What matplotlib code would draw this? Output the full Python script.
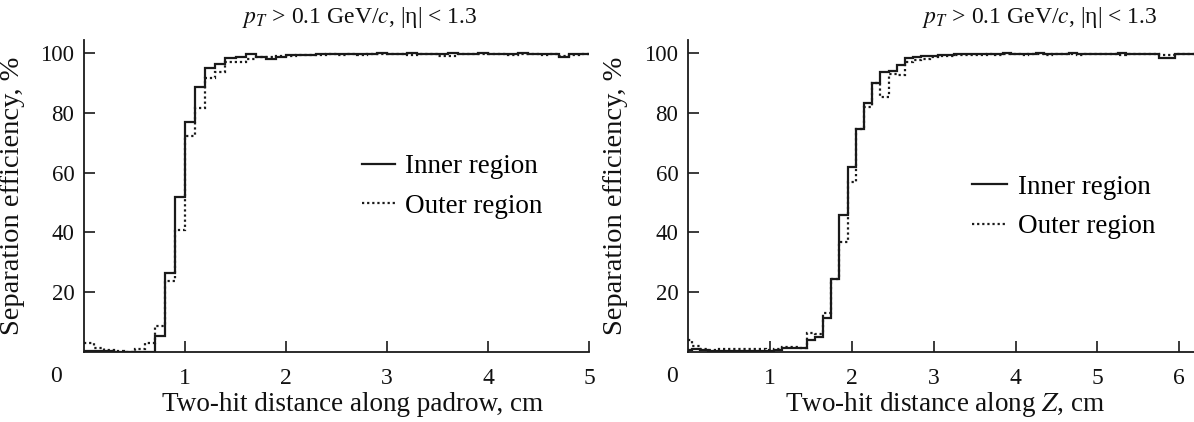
import numpy as np
import matplotlib
matplotlib.use("Agg")
import matplotlib.pyplot as plt
from matplotlib.lines import Line2D

plt.rcParams['font.family'] = ['Liberation Serif', 'DejaVu Serif']
plt.rcParams['mathtext.fontset'] = 'stix'

# ---------------- data ----------------
# Left panel: two-hit distance along padrow (cm), bins of 0.1 cm from 0 to 5
pad_edges = np.round(np.arange(0.0, 5.0001, 0.1), 2)
pad_inner = [0.3, 0.2, 0.1, 0.0, 0.0, 0.0, 0.0, 5.3, 26.5, 51.7,
             77.0, 88.8, 95.2, 96.4, 98.3, 98.8, 99.7, 98.8, 98.0, 98.9,
             99.4, 99.5, 99.6, 99.8, 99.7, 99.8, 99.9, 99.7, 99.9, 100.0,
             99.8, 99.9, 100.0, 99.8, 99.9, 99.9, 100.0, 99.8, 99.9, 100.0,
             99.9, 99.8, 99.9, 100.0, 99.9, 99.8, 99.9, 98.9, 99.7, 99.9]
pad_outer = [2.7, 1.1, 0.5, 0.1, 0.0, 0.8, 3.0, 8.4, 23.8, 40.7,
             72.2, 81.7, 91.9, 93.8, 97.1, 97.1, 98.0, 98.7, 98.9, 99.2,
             99.3, 99.5, 99.4, 99.6, 99.7, 99.5, 99.8, 99.6, 99.7, 99.9,
             99.7, 99.8, 99.6, 99.8, 99.9, 99.3, 99.2, 99.7, 99.8, 99.9,
             99.7, 99.8, 99.6, 99.9, 99.8, 99.5, 99.7, 99.2, 99.6, 99.8]

# Right panel: two-hit distance along Z (cm), bins of 0.1 cm centred on 0.1*k
z_edges = np.round(np.concatenate([[0.0], np.arange(0.05, 6.2501, 0.1)]), 2)
z_inner = [0.5, 0.8, 0.5, 0.3, 0.2, 0.2, 0.3, 0.1, 0.2, 0.3,
           0.3, 0.4, 1.2, 1.2, 1.3, 4.0, 4.7, 11.3, 24.4, 45.9,
           62.0, 74.7, 83.2, 90.1, 93.7, 94.1, 96.1, 98.5, 98.7, 99.0,
           99.3, 99.4, 99.6, 99.7, 99.8, 99.7, 99.9, 99.8, 99.9, 100.0,
           99.8, 99.9, 99.8, 100.0, 99.9, 99.8, 99.9, 100.0, 99.9, 99.7,
           99.9, 99.8, 99.9, 100.0, 99.8, 99.9, 99.7, 99.9, 98.4, 98.4,
           99.8, 99.9, 99.9]
z_outer = [3.8, 2.0, 1.0, 0.5, 0.8, 1.0, 1.0, 0.9, 0.8, 0.7,
           0.6, 0.8, 1.4, 1.4, 1.3, 6.3, 6.0, 12.9, 24.4, 36.8,
           56.9, 74.7, 82.1, 90.1, 85.4, 93.2, 92.6, 97.0, 97.9, 98.2,
           98.9, 99.2, 99.3, 99.5, 99.4, 99.6, 99.5, 99.7, 99.6, 99.8,
           99.7, 99.5, 99.8, 99.7, 99.6, 99.8, 99.7, 99.9, 99.6, 99.8,
           99.7, 99.9, 99.8, 99.6, 99.8, 99.9, 99.7, 99.8, 99.6, 99.5,
           99.7, 99.8, 99.9]

y_ticks = [20, 40, 60, 80, 100]
title_text = r"$p_T$ > 0.1 GeV/$c$, |η| < 1.3"
ylabel_text = "Separation efficiency, %"
xlabel_left = "Two-hit distance along padrow, cm"
xlabel_right = r"Two-hit distance along $Z$, cm"
legend_labels = ["Inner region", "Outer region"]

# ---------------- style ----------------
FS_TICK = 16.5
FS_XTICK = 17
FS_LABEL = 19.5
FS_YLABEL = 20.5
FS_TITLE = 17
FS_LEG = 19.5
INK = "#1a1a1a"
TXT = "#111111"
solid_kw = dict(color=INK, lw=1.6, linestyle='-')
dot_kw = dict(color=INK, lw=1.6, linestyle=(0, (1.0, 1.3)))

W, H = 1194, 422
fig = plt.figure(figsize=(W / 100, H / 100), dpi=100)

def frac_x(px):
    return px / W

def frac_y(py):
    return 1 - py / H

AX_TOP, AX_BOT = 40, 351.5
axL = fig.add_axes([frac_x(84), frac_y(AX_BOT), frac_x(589 - 84), (AX_BOT - AX_TOP) / H])
axR = fig.add_axes([frac_x(688), frac_y(AX_BOT), frac_x(1194 - 688), (AX_BOT - AX_TOP) / H])


def style_axis(ax, xmax, xticks, xlabel, xl_x, zero_px, yl_x):
    ax.set_xlim(0, xmax)
    ax.set_ylim(0, 104.5)
    for s in ('top', 'right'):
        ax.spines[s].set_visible(False)
    for s in ('left', 'bottom'):
        ax.spines[s].set_linewidth(1.3)
        ax.spines[s].set_color(INK)
    ax.set_xticks(xticks)
    ax.set_xticklabels([str(t) for t in xticks])
    ax.set_yticks(y_ticks)
    ax.tick_params(axis='both', direction='in', length=8, width=1.2,
                   colors=INK, labelcolor=TXT)
    ax.tick_params(axis='x', pad=12, labelsize=FS_XTICK)
    ax.tick_params(axis='y', pad=7, labelsize=FS_TICK)
    ax.set_xlabel(xlabel, fontsize=FS_LABEL, color=TXT)
    ax.xaxis.label.set_va('baseline')
    ax.xaxis.set_label_coords(xl_x, (AX_BOT - 411) / (AX_BOT - AX_TOP))
    ax.set_ylabel(ylabel_text, fontsize=FS_YLABEL, color=TXT)
    ax.yaxis.label.set_va('center')
    ax.yaxis.set_label_coords(yl_x, 0.5)
    # corner "0" label
    ax.text(zero_px, (AX_BOT - 376) / (AX_BOT - AX_TOP), "0", transform=ax.transAxes,
            fontsize=FS_XTICK, ha='center', va='center', color=TXT)


axL.stairs(pad_inner, pad_edges, baseline=None, **solid_kw)
axL.stairs(pad_outer, pad_edges, baseline=None, **dot_kw)
style_axis(axL, 5.0, [1, 2, 3, 4, 5], xlabel_left, (353 - 84) / 505,
           (56 - 84) / 505, (13 - 84) / 505)

axR.stairs(z_inner, z_edges, baseline=None, **solid_kw)
axR.stairs(z_outer, z_edges, baseline=None, **dot_kw)
style_axis(axR, 6.18, [1, 2, 3, 4, 5, 6], xlabel_right, (945 - 688) / 506,
           (672 - 688) / 506, (615 - 688) / 506)

handles = [Line2D([], [], **solid_kw), Line2D([], [], **dot_kw)]
for lx, ly, hl in ((362, 186.5, 1.2), (972, 207, 1.3)):
    fig.legend(handles, legend_labels, loc='center left',
               bbox_to_anchor=(frac_x(lx), frac_y(ly)), frameon=False,
               fontsize=FS_LEG, handlelength=hl, handletextpad=0.4,
               labelspacing=0.55, borderaxespad=0, borderpad=0)

fig.text(frac_x(360), frac_y(18), title_text, fontsize=FS_TITLE, ha='center', va='center',
         color=TXT)
fig.text(frac_x(1040), frac_y(18), title_text, fontsize=FS_TITLE, ha='center', va='center',
         color=TXT)

fig.savefig("out.png", dpi=100)
